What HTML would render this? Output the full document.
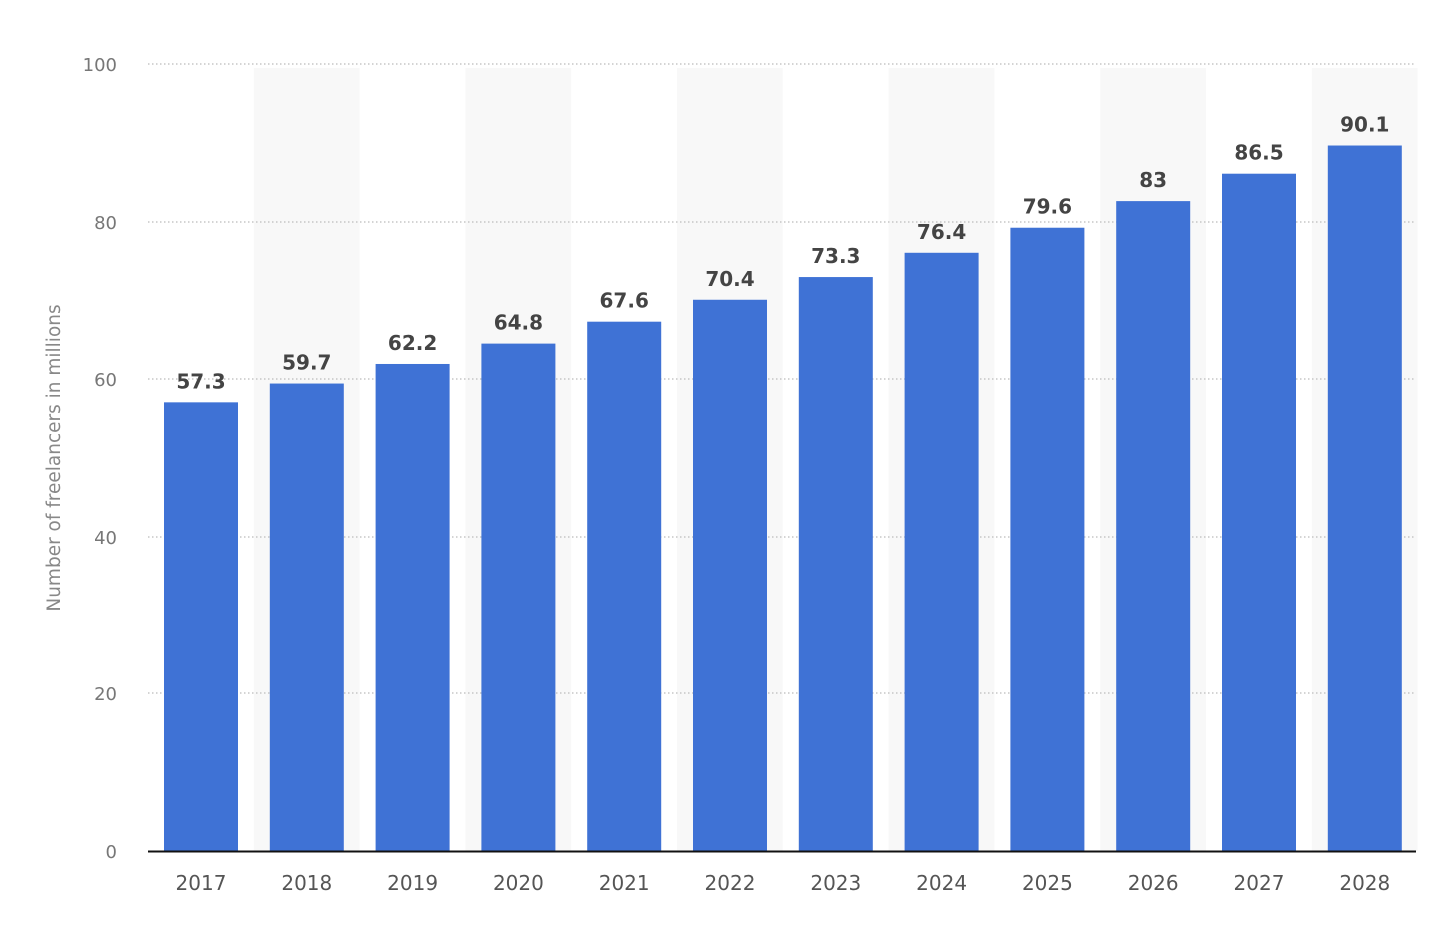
<!DOCTYPE html>
<html><head><meta charset="utf-8"><style>
html,body{margin:0;padding:0;background:#fff;}
svg{display:block;font-family:"DejaVu Sans","Liberation Sans",sans-serif;}
</style></head><body>
<svg id="c" width="1436" height="946" xmlns="http://www.w3.org/2000/svg"></svg>
<script>
var s=document.getElementById('c'),h='';
var vals=[57.3,59.7,62.2,64.8,67.6,70.4,73.3,76.4,79.6,83,86.5,90.1];
var step=105.8,base=851,sc=7.83;
for(var i=0;i<12;i++){if(i%2==1)h+='<rect x="'+(148+i*step)+'" y="68" width="'+step+'" height="'+(base-68)+'" fill="#f8f8f8"/>';}
var gl=[[100,64],[80,222],[60,379],[40,537],[20,693]];
gl.forEach(function(g){h+='<line x1="148" x2="1415" y1="'+g[1]+'" y2="'+g[1]+'" stroke="#bbb" stroke-width="1.2" stroke-dasharray="1.5,2.5"/>';
h+='<text x="117" y="'+(g[1]+7)+'" text-anchor="end" font-size="18" fill="#777">'+g[0]+'</text>';});
h+='<text x="117" y="858" text-anchor="end" font-size="18" fill="#777">0</text>';
for(var i=0;i<12;i++){var c=201+step*i,t=base-vals[i]*sc;
h+='<rect x="'+(c-37)+'" y="'+t+'" width="74" height="'+(base-t)+'" fill="#3f72d5"/>';
h+='<text x="'+c+'" y="'+(t-14)+'" text-anchor="middle" font-size="20" font-weight="bold" fill="#444">'+vals[i]+'</text>';
h+='<text x="'+c+'" y="890" text-anchor="middle" font-size="20" fill="#555">'+(2017+i)+'</text>';}
h+='<line x1="148" x2="1416" y1="851.5" y2="851.5" stroke="#111" stroke-width="2"/>';
h+='<text transform="translate(60,458) rotate(-90)" text-anchor="middle" font-size="18.5" fill="#888">Number of freelancers in millions</text>';
s.innerHTML=h;
</script>
</body></html>
